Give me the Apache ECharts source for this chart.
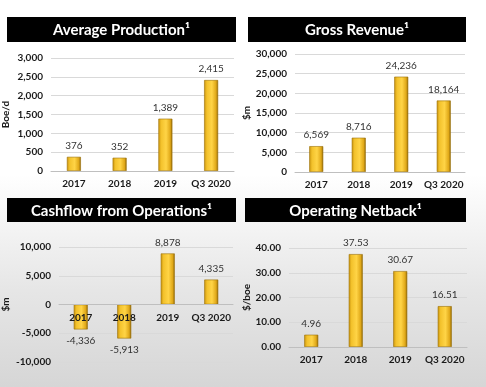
<!DOCTYPE html>
<html><head><meta charset="utf-8">
<script src="https://cdn.jsdelivr.net/npm/echarts@6/dist/echarts.min.js"></script>
<style>html,body{margin:0;padding:0;}#c{width:486px;height:387px;background:linear-gradient(to bottom,#ffffff 0%,#ffffff 45%,#e6e6e6 75%,#d6d6d6 100%);}</style>
</head><body><div id="c"></div>
<script>
const categories = ['2017', '2018', '2019', 'Q3 2020'];
const production = [376, 352, 1389, 2415];
const revenue = [6569, 8716, 24236, 18164];
const cashflow = [-4336, -5913, 8878, 4335];
const netback = [4.96, 37.53, 30.67, 16.51];
const titles = ['Average Production\u00B9', 'Gross Revenue\u00B9', 'Cashflow from Operations\u00B9', 'Operating Netback\u00B9'];
const yNames = ['Boe/d', '$m', '$m', '$/boe'];

const FONT = 'Lato, "Open Sans", sans-serif';
const chart = echarts.init(document.getElementById('c'), null, {renderer: 'canvas'});
const W = 486, H = 387;

const grids = [
  {left: 50, right: 252, top: 58, bottom: 216},
  {left: 295, right: 21, top: 54, bottom: 215},
  {left: 58, right: 253, top: 247, bottom: 25},
  {left: 289, right: 19, top: 248, bottom: 40}
];
const yCfg = [
  {min: 0, max: 3000, interval: 500, gap: 40, fmt: v => v.toLocaleString('en-US')},
  {min: 0, max: 30000, interval: 5000, gap: 43, fmt: v => v.toLocaleString('en-US')},
  {min: -10000, max: 10000, interval: 5000, gap: 48, fmt: v => v.toLocaleString('en-US')},
  {min: 0, max: 40, interval: 10, gap: 37, fmt: v => v.toFixed(2)}
];
const seriesData = [production, revenue, cashflow, netback];
const valueFmt = [
  v => v.toLocaleString('en-US'),
  v => v.toLocaleString('en-US'),
  v => v.toLocaleString('en-US'),
  v => v.toFixed(2)
];

const barColor = {
  type: 'linear', x: 0, y: 0, x2: 1, y2: 0,
  colorStops: [
    {offset: 0, color: '#c8920c'},
    {offset: 0.2, color: '#f3c22c'},
    {offset: 0.55, color: '#ffd446'},
    {offset: 0.85, color: '#e0a818'},
    {offset: 1, color: '#8a6206'}
  ]
};

const titleBoxes = [
  {x: 7, y: 17, w: 229, h: 25},
  {x: 248, y: 17, w: 218, h: 25},
  {x: 7, y: 198, w: 229, h: 24},
  {x: 245, y: 198, w: 221, h: 24}
];
const graphic = [];
titleBoxes.forEach((b, i) => {
  graphic.push({type: 'rect', shape: {x: b.x, y: b.y, width: b.w, height: b.h}, style: {fill: '#000'}, z: 10});
  graphic.push({type: 'text', x: b.x + b.w / 2, y: b.y + b.h / 2 + 1, style: {text: titles[i], fill: '#fff', font: 'bold 15px ' + FONT, textAlign: 'center', textVerticalAlign: 'middle'}, z: 11});
});

// place category axis at the zero line of the value axis (labels follow it)
function zeroOffset(i) {
  const g = grids[i], c = yCfg[i];
  const h = H - g.top - g.bottom;
  return -h * (0 - c.min) / (c.max - c.min);
}

const option = {
  animation: false,
  grid: grids.map(g => Object.assign({containLabel: false}, g)),
  graphic: graphic,
  xAxis: grids.map((g, i) => ({
    type: 'category', gridIndex: i, data: categories, z: 5,
    offset: zeroOffset(i),
    axisLine: {show: true, onZero: false, lineStyle: {color: '#bfbfbf', width: 1}},
    axisTick: {show: false},
    axisLabel: {interval: 0, color: '#1a1a1a', fontFamily: FONT, fontWeight: 'bold', fontSize: 10, margin: 8}
  })),
  yAxis: yCfg.map((c, i) => ({
    type: 'value', gridIndex: i, min: c.min, max: c.max, interval: c.interval,
    name: yNames[i], nameLocation: 'middle', nameGap: c.gap, nameRotate: 90,
    nameTextStyle: {color: '#1a1a1a', fontFamily: FONT, fontWeight: 'bold', fontSize: 10},
    axisLine: {show: false}, axisTick: {show: false},
    axisLabel: {color: '#1a1a1a', fontFamily: FONT, fontWeight: 'bold', fontSize: 10, margin: 8, formatter: c.fmt},
    splitLine: {lineStyle: {color: '#d9d9d9', width: 1}}
  })),
  series: seriesData.map((d, i) => ({
    type: 'bar', xAxisIndex: i, yAxisIndex: i, barWidth: 14, z: 2,
    data: d.map(v => ({value: v, label: {position: v < 0 ? 'bottom' : 'top'}})),
    itemStyle: {color: barColor, borderColor: '#9a7008', borderWidth: 0.6},
    label: {show: true, distance: 6, color: '#333', fontFamily: FONT, fontSize: 10, formatter: p => valueFmt[i](p.value)}
  }))
};
chart.setOption(option);
</script></body></html>
